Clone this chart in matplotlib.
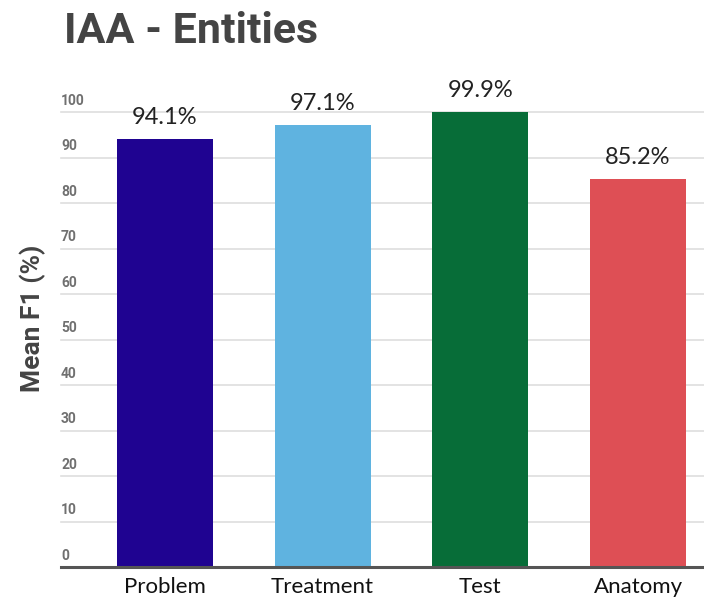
import matplotlib
matplotlib.use("Agg")
import matplotlib.pyplot as plt
from matplotlib.transforms import blended_transform_factory, offset_copy

categories = ["Problem", "Treatment", "Test", "Anatomy"]
mean_f1 = [94.1, 97.1, 99.9, 85.2]
bar_colors = ["#1f0391", "#5fb3e0", "#076d38", "#de4f55"]
y_ticks = [0, 10, 20, 30, 40, 50, 60, 70, 80, 90, 100]

W, H = 704, 599
fig = plt.figure(figsize=(W / 100, H / 100), dpi=100)
fig.patch.set_facecolor("white")

left, right, bottom, top = 61, 704, 567, 112
ax = fig.add_axes([left / W, (H - bottom) / H, (right - left) / W, (bottom - top) / H])

x = list(range(len(categories)))
bars = ax.bar(x, mean_f1, width=0.608, color=bar_colors, zorder=3)
ax.set_xlim(-0.658, 3.418)
ax.set_ylim(0, 100)

# horizontal gridlines
for v in y_ticks[1:]:
    ax.axhline(v, color="#dedede", linewidth=1.2, zorder=1, clip_on=False)
ax.axhline(0, color="#555555", linewidth=2.2, zorder=4, clip_on=False)

for s in ax.spines.values():
    s.set_visible(False)

# y tick labels sit just above their gridline
ax.set_yticks([])
trans = offset_copy(blended_transform_factory(ax.transAxes, ax.transData),
                    fig=fig, x=0, y=3, units="points")
for v in y_ticks:
    ax.text(0.0, v, str(v), transform=trans, ha="left", va="bottom",
            fontsize=10, fontweight="bold", color="#707070", family="Roboto")

ax.set_xticks(x)
ax.set_xticklabels(categories, fontsize=16, family="Lato", color="#111111")
ax.tick_params(axis="x", length=0, pad=7)

for b, v in zip(bars, mean_f1):
    ax.annotate(f"{v:.1f}%", (b.get_x() + b.get_width() / 2, v),
                xytext=(0, 8), textcoords="offset points", ha="center",
                va="bottom", fontsize=17, family="Lato", color="#222222",
                annotation_clip=False)

fig.text(33 / W, 1 - 318 / H, "Mean F1 (%)", rotation=90, ha="center",
         va="center", fontsize=19, fontweight="bold", color="#444444",
         family="Roboto")
fig.text(64 / W, 1 - 43 / H, "IAA - Entities", ha="left", va="baseline",
         fontsize=31, fontweight="bold", color="#444444", family="Roboto")

fig.savefig("out.png", dpi=100, facecolor="white")
